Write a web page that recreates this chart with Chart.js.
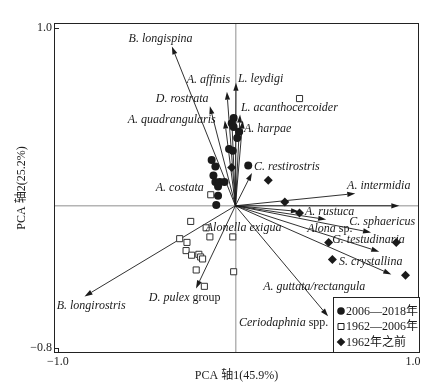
<!DOCTYPE html>
<html>
<head>
<meta charset="utf-8">
<script src="https://cdn.jsdelivr.net/npm/chart.js@4.4.0/dist/chart.umd.min.js"></script>
<style>
  html, body { margin: 0; padding: 0; background: #fff; }
  #wrap { width: 447px; height: 387px; }
</style>
</head>
<body>
<div id="wrap"><canvas id="pca"></canvas></div>
<script>
// sample scores (PCA axis 1, axis 2)
const recentX = [-0.01, -0.021, -0.01, 0.021, 0.01, -0.036, -0.015, -0.134, 0.072, -0.113, -0.124, -0.113, -0.088, -0.062, -0.098, -0.098, -0.108]
const recentY = [0.494, 0.464, 0.443, 0.417, 0.381, 0.319, 0.309, 0.258, 0.227, 0.221, 0.17, 0.134, 0.134, 0.134, 0.108, 0.057, 0.005]

const midX = [0.361, -0.139, -0.252, -0.165, -0.144, -0.314, -0.273, -0.278, -0.247, -0.206, -0.196, -0.185, -0.221, -0.175, -0.015, -0.01]
const midY = [0.603, 0.062, -0.088, -0.124, -0.175, -0.185, -0.206, -0.252, -0.278, -0.273, -0.288, -0.299, -0.361, -0.453, -0.175, -0.371]

const oldX = [-0.021, 0.185, 0.278, 0.361, 0.525, 0.546, 0.906, 0.958]
const oldY = [0.216, 0.144, 0.021, -0.041, -0.206, -0.302, -0.206, -0.391]

const periodLabels = ['2006—2018年', '1962—2006年', '1962年之前']

// species loadings (arrow tips); null = no arrow drawn
const speciesNames = [
  'B. longispina', 'A. affinis', 'L. leydigi', 'D. rostrata', 'A. quadrangularis',
  'L. acanthocercoider', 'A. harpae', 'C. restirostris', 'A. costata', 'A. intermidia',
  'A. rustuca', 'C. sphaericus', 'Alona sp.', 'G. testudinaria', 'S. crystallina',
  'Alonella exigua', 'A. guttata/rectangula', 'Ceriodaphnia spp.', 'B. longirostris', 'D. pulex group'
]
const loadX = [-0.358, -0.048, 0.003, -0.144, -0.06, 0.026, 0.041, 0.093, -0.021, 0.675, 0.358, 0.923, 0.511, 0.764, 0.878, null, 0.81, 0.522, -0.85, -0.222]
const loadY = [0.896, 0.642, 0.692, 0.56, 0.479, 0.513, 0.479, 0.185, 0.5, 0.069, -0.032, 0.0, -0.077, -0.15, -0.386, null, -0.258, -0.622, -0.51, -0.465]

// where each species name sits (left edge, middle), in axis units
const labelX = [-0.602, -0.274, 0.014, -0.449, -0.607, 0.031, 0.048, 0.104, -0.449, 0.629, 0.392, 0.641, 0.404, 0.545, 0.584, -0.167, 0.156, 0.02, -1.007, -0.488]
const labelY = [0.94, 0.71, 0.715, 0.603, 0.484, 0.551, 0.434, 0.22, 0.103, 0.113, -0.032, -0.088, -0.128, -0.19, -0.313, -0.122, -0.457, -0.661, -0.56, -0.515]

const xTicks = [-1.0, 0, 1.0]
const yTicks = [-0.8, 0, 1.0]

const toPoints = (xs, ys) => xs.map((x, i) => ({ x: x, y: ys[i] }))
const fmt = v => (v < 0 ? '\u2212' : '') + Math.abs(v).toFixed(1)

const ITALIC = 'italic 12px "Liberation Serif", "Times New Roman", serif'
const UPRIGHT = '12px "Liberation Serif", "Times New Roman", serif'
const INK = '#1a1a1a'

// split "Alona sp." etc. into italic + upright parts
function labelParts(name) {
  const m = name.match(/^(.*?)( group| spp\.| sp\.)$/)
  return m ? [[m[1], ITALIC], [m[2], UPRIGHT]] : [[name, ITALIC]]
}

const arrowPlugin = {
  id: 'arrows',
  beforeDatasetsDraw(chart) {
    const { ctx, scales: { x, y } } = chart
    const ox = x.getPixelForValue(0), oy = y.getPixelForValue(0)
    ctx.save()
    ctx.strokeStyle = INK
    ctx.fillStyle = INK
    ctx.lineWidth = 0.9
    speciesNames.forEach((n, i) => {
      if (loadX[i] === null) return
      const tx = x.getPixelForValue(loadX[i]), ty = y.getPixelForValue(loadY[i])
      const ang = Math.atan2(ty - oy, tx - ox)
      const len = 8, hw = 2.6
      const bx = tx - len * Math.cos(ang), by = ty - len * Math.sin(ang)
      ctx.beginPath()
      ctx.moveTo(ox, oy)
      ctx.lineTo(bx, by)
      ctx.stroke()
      ctx.beginPath()
      ctx.moveTo(tx, ty)
      ctx.lineTo(bx + hw * Math.sin(ang), by - hw * Math.cos(ang))
      ctx.lineTo(bx - hw * Math.sin(ang), by + hw * Math.cos(ang))
      ctx.closePath()
      ctx.fill()
    })
    ctx.restore()
  },
  afterDatasetsDraw(chart) {
    const { ctx, scales: { x, y } } = chart
    ctx.save()
    ctx.fillStyle = INK
    ctx.textBaseline = 'middle'
    ctx.textAlign = 'left'
    speciesNames.forEach((n, i) => {
      let px = x.getPixelForValue(labelX[i])
      const py = y.getPixelForValue(labelY[i])
      labelParts(n).forEach(([t, f]) => {
        ctx.font = f
        ctx.fillText(t, px, py)
        px += ctx.measureText(t).width
      })
    })
    ctx.restore()
  },
  afterDraw(chart) {
    const { ctx, chartArea: a, scales: { x, y } } = chart
    ctx.save()
    // frame and inward ticks at the labelled values
    ctx.strokeStyle = '#222'
    ctx.lineWidth = 1
    ctx.strokeRect(a.left + 0.5, a.top + 0.5, a.right - a.left - 1, a.bottom - a.top - 1)
    ctx.beginPath()
    yTicks.filter(v => v !== 0).forEach(v => {
      const py = Math.round(y.getPixelForValue(v)) + 0.5
      ctx.moveTo(a.left, py); ctx.lineTo(a.left + 5, py)
    })
    xTicks.filter(v => v !== 0).forEach(v => {
      const px = Math.round(x.getPixelForValue(v)) + 0.5
      ctx.moveTo(px, a.bottom); ctx.lineTo(px, a.bottom - 5)
    })
    ctx.stroke()

    // legend box in the lower right corner
    const w = 86, h = 56
    const lx = a.right - w, ly = a.bottom - h
    ctx.fillStyle = '#fff'
    ctx.fillRect(lx, ly, w, h)
    ctx.strokeRect(lx + 0.5, ly + 0.5, w, h - 1)
    ctx.font = '12px "Liberation Serif", "Noto Sans CJK SC", serif'
    ctx.textBaseline = 'middle'
    chart.data.datasets.forEach((ds, i) => {
      const cy = ly + 14 + i * 15.5
      const cx = lx + 8
      ctx.fillStyle = INK
      ctx.strokeStyle = INK
      ctx.beginPath()
      if (ds.pointStyle === 'circle') {
        ctx.arc(cx, cy, 3.8, 0, Math.PI * 2); ctx.fill()
      } else if (ds.pointStyle === 'rect') {
        ctx.rect(cx - 3, cy - 3, 6, 6); ctx.stroke()
      } else {
        ctx.moveTo(cx, cy - 4.3); ctx.lineTo(cx + 4.3, cy); ctx.lineTo(cx, cy + 4.3); ctx.lineTo(cx - 4.3, cy)
        ctx.closePath(); ctx.fill()
      }
      ctx.fillText(ds.label, cx + 5, cy + 0.5)
    })
    ctx.restore()
  }
}

const zeroGrid = c => (c.tick && c.tick.value === 0 ? '#b4b4b4' : 'rgba(0,0,0,0)')

new Chart(document.getElementById('pca'), {
  type: 'scatter',
  data: {
    datasets: [
      {
        label: periodLabels[0],
        data: toPoints(recentX, recentY),
        pointStyle: 'circle',
        pointRadius: 4,
        backgroundColor: INK,
        borderColor: INK,
        borderWidth: 0
      },
      {
        label: periodLabels[1],
        data: toPoints(midX, midY),
        pointStyle: 'rect',
        pointRadius: 4.3,
        backgroundColor: '#fff',
        borderColor: '#333',
        borderWidth: 1
      },
      {
        label: periodLabels[2],
        data: toPoints(oldX, oldY),
        pointStyle: 'rectRot',
        pointRadius: 4.5,
        backgroundColor: INK,
        borderColor: INK,
        borderWidth: 0
      }
    ]
  },
  options: {
    responsive: true,
    maintainAspectRatio: false,
    animation: false,
    layout: { padding: { left: 11, right: 28, top: 23, bottom: 0 } },
    plugins: {
      legend: { display: false },
      tooltip: { enabled: false }
    },
    scales: {
      x: {
        type: 'linear',
        min: -1.022, max: 1.034,
        afterBuildTicks: s => { s.ticks = xTicks.map(v => ({ value: v })) },
        afterFit: s => { s.height = 34 },
        ticks: {
          callback: v => (v === 0 ? '' : fmt(v)),
          font: { family: '"Liberation Serif", serif', size: 12 },
          color: '#222',
          padding: 2,
          maxRotation: 0
        },
        grid: { drawTicks: false, color: zeroGrid, lineWidth: 1.5 },
        border: { display: false },
        title: {
          display: true,
          text: 'PCA 轴1(45.9%)',
          font: { family: '"Liberation Serif", "Noto Sans CJK SC", serif', size: 12 },
          color: '#222',
          padding: { top: 2, bottom: 4 }
        }
      },
      y: {
        type: 'linear',
        min: -0.828, max: 1.028,
        afterBuildTicks: s => { s.ticks = yTicks.map(v => ({ value: v })) },
        afterFit: s => { s.width = 43 },
        ticks: {
          callback: v => (v === 0 ? '' : fmt(v)),
          font: { family: '"Liberation Serif", serif', size: 12 },
          color: '#222',
          padding: 2
        },
        grid: { drawTicks: false, color: zeroGrid, lineWidth: 1.5 },
        border: { display: false },
        title: {
          display: true,
          text: 'PCA 轴2(25.2%)',
          font: { family: '"Liberation Serif", "Noto Sans CJK SC", serif', size: 12 },
          color: '#222',
          padding: { top: 4, bottom: 4 }
        }
      }
    }
  },
  plugins: [arrowPlugin]
})
</script>
</body>
</html>
